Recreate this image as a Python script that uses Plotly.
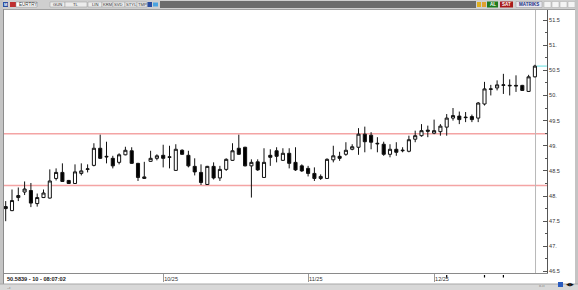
import plotly.graph_objects as go
import pandas as pd

# ---------------- data ----------------
dates = pd.bdate_range("2025-08-27", periods=85)
opens = [47.79, 47.71, 47.97, 48.08, 48.11, 47.85, 47.97, 47.96, 48.35, 48.47,
         48.31, 48.25, 48.45, 48.53, 48.61, 48.95, 48.79, 48.75, 48.67, 48.82,
         48.90, 48.65, 48.35, 48.69, 48.75, 48.81, 48.78, 48.51, 48.91, 48.81,
         48.59, 48.47, 48.23, 48.59, 48.36, 48.53, 48.71, 48.95, 48.97, 48.60,
         48.68, 48.37, 48.81, 48.90, 48.71, 48.85, 48.67, 48.60, 48.55, 48.45,
         48.35, 48.35, 48.72, 48.79, 48.83, 48.93, 48.97, 49.23, 49.21, 49.05,
         49.03, 48.83, 48.93, 48.90, 48.89, 49.13, 49.20, 49.31, 49.25, 49.28,
         49.37, 49.55, 49.59, 49.57, 49.58, 49.55, 49.83, 50.12, 50.15, 50.20,
         50.19, 50.20, 50.20, 50.08, 50.37]
highs = [47.90, 48.13, 48.17, 48.29, 48.26, 48.05, 48.13, 48.53, 48.55, 48.65,
         48.32, 48.63, 48.65, 48.63, 49.05, 49.22, 49.08, 48.80, 48.85, 48.98,
         48.97, 48.66, 48.68, 48.90, 48.83, 49.02, 49.00, 49.03, 48.93, 48.90,
         48.75, 48.63, 48.60, 48.67, 48.60, 48.75, 49.05, 49.22, 48.98, 48.73,
         48.73, 48.95, 48.93, 48.97, 48.95, 48.95, 48.97, 48.63, 48.60, 48.57,
         48.43, 48.75, 49.00, 48.88, 49.07, 49.03, 49.35, 49.38, 49.27, 49.17,
         49.08, 49.03, 49.07, 48.97, 49.20, 49.30, 49.43, 49.40, 49.52, 49.43,
         49.63, 49.75, 49.68, 49.67, 49.62, 49.87, 50.27, 50.21, 50.30, 50.43,
         50.32, 50.40, 50.21, 50.41, 50.61]
lows = [47.50, 47.70, 47.90, 48.02, 47.78, 47.79, 47.96, 47.95, 48.31, 48.28,
        48.24, 48.24, 48.41, 48.47, 48.59, 48.74, 48.65, 48.55, 48.63, 48.81,
        48.64, 48.30, 48.34, 48.68, 48.71, 48.57, 48.55, 48.50, 48.82, 48.57,
        48.41, 48.22, 48.22, 48.33, 48.30, 48.50, 48.70, 48.82, 48.59, 47.97,
        48.50, 48.36, 48.60, 48.67, 48.70, 48.55, 48.50, 48.48, 48.39, 48.30,
        48.32, 48.34, 48.67, 48.70, 48.80, 48.91, 48.82, 48.87, 48.93, 48.87,
        48.80, 48.77, 48.80, 48.87, 48.87, 49.07, 49.18, 49.17, 49.23, 49.20,
        49.20, 49.50, 49.43, 49.47, 49.47, 49.47, 49.80, 50.00, 50.10, 50.03,
        50.00, 50.07, 50.09, 50.07, 50.36]
closes = [47.75, 47.91, 48.01, 48.14, 47.86, 47.97, 48.06, 48.30, 48.47, 48.29,
          48.25, 48.48, 48.50, 48.54, 48.95, 48.75, 48.78, 48.60, 48.82, 48.91,
          48.65, 48.37, 48.38, 48.75, 48.80, 48.75, 48.77, 48.93, 48.83, 48.60,
          48.48, 48.27, 48.59, 48.36, 48.53, 48.73, 48.90, 48.83, 48.60, 48.67,
          48.52, 48.67, 48.77, 48.79, 48.85, 48.65, 48.52, 48.50, 48.45, 48.35,
          48.39, 48.73, 48.80, 48.75, 48.91, 48.98, 49.23, 49.08, 49.07, 49.04,
          48.83, 48.93, 48.87, 48.91, 49.12, 49.20, 49.30, 49.29, 49.30, 49.39,
          49.55, 49.60, 49.52, 49.56, 49.52, 49.85, 50.13, 50.13, 50.21, 50.21,
          50.20, 50.19, 50.10, 50.37, 50.5839]
resistance = 49.24
support = 48.21
last_price = 50.5839
status_text = "50.5839 - 10 - 08:07:02"
y_tickvals = [46.5, 47, 47.5, 48, 48.5, 49, 49.5, 50, 50.5, 51, 51.5]
y_ticktext = ["46.5", "47.", "47.5", "48.", "48.5", "49.", "49.5", "50.", "50.5", "51.", "51.5"]
x_month_labels = ["10/25", "11/25", "12/25"]
event_idx = [70, 76, 79]

x = list(range(len(dates)))
# first bar of each labelled month
month_idx = [next(i for i in x if f"{dates[i].month}/{str(dates[i].year)[2:]}" == m)
             for m in x_month_labels]

# ---------------- geometry helpers (pixel -> paper) ----------------
W, H = 578, 290
PL, PR, PT, PB = 4, 547, 10, 273
def px(v):
    return (v - PL) / (PR - PL)
def py(v):
    return (PB - v) / (PB - PT)

fig = go.Figure()
fig.add_trace(go.Candlestick(
    x=x, open=opens, high=highs, low=lows, close=closes,
    increasing=dict(line=dict(color="#111111", width=1), fillcolor="#ffffff"),
    decreasing=dict(line=dict(color="#111111", width=1), fillcolor="#000000"),
    whiskerwidth=0, hoverinfo="skip", showlegend=False,
))

shapes = []
annots = []
def rect(x0, y0, x1, y1, fill, line=None, lw=0):
    shapes.append(dict(type="rect", xref="paper", yref="paper",
                       x0=px(x0), x1=px(x1), y0=py(y1), y1=py(y0),
                       fillcolor=fill, line=dict(color=line or fill, width=lw), layer="above"))
def hline(x0, x1, y, color, w=1):
    shapes.append(dict(type="line", xref="paper", yref="paper", x0=px(x0), x1=px(x1),
                       y0=py(y), y1=py(y), line=dict(color=color, width=w), layer="above"))
def vline(x0, y0, y1, color, w=1):
    shapes.append(dict(type="line", xref="paper", yref="paper", x0=px(x0), x1=px(x0),
                       y0=py(y0), y1=py(y1), line=dict(color=color, width=w), layer="above"))
def text(x0, y0, s, size=5, color="#222", anchor="left", bold=False, font="Liberation Sans"):
    annots.append(dict(xref="paper", yref="paper", x=px(x0), y=py(y0), text=("<b>%s</b>" % s) if bold else s,
                       showarrow=False, xanchor=anchor, yanchor="middle",
                       font=dict(size=size, color=color, family=font)))

# support / resistance lines
for lvl in (resistance, support):
    shapes.append(dict(type="line", xref="paper", yref="y", x0=0, x1=1, y0=lvl, y1=lvl,
                       line=dict(color="#f4a4a4", width=1.4), layer="below"))
# cursor line at last bar
shapes.append(dict(type="line", xref="x", yref="paper", x0=x[-1] + 0.1, x1=x[-1] + 0.1, y0=0, y1=1,
                   line=dict(color="#b8b8b8", width=1), layer="below"))
# last price marker
shapes.append(dict(type="line", xref="x", yref="y", x0=x[-1] + 0.3, x1=x[-1] + 1.9,
                   y0=last_price, y1=last_price, line=dict(color="#66e0e0", width=1), layer="above"))

# frame: toolbar
rect(0, 0, 578, 9, "#cfcfcf")
rect(160, 1, 476, 8, "#6b6b6b")
rect(3, 2, 8, 7, "#2a4da0")
text(5.5, 4.6, "M", 4, "#fff", "center", True)
rect(10, 2, 16, 7, "#c03030")
rect(16, 2, 37, 7, "#ffffff", "#888", 0.5)
text(17, 4.6, "EURTRY", 4.5, "#333")
for (a, b, s) in [(50, 65, "GUN"), (65, 87, "TL"), (88, 102, "LIN"), (102, 113, "KRM"),
                  (113, 125, "SVD"), (125, 137, "STYL"), (137, 147, "TMP")]:
    rect(a, 2, b, 7, "#ececec", "#999", 0.5)
    text((a + b) / 2, 4.6, s, 4.2, "#333", "center")
rect(147.5, 2, 152, 7, "#2a4da0")
rect(153, 2.5, 158, 6.5, "#4aa3e0")
rect(477, 2, 481, 7, "#e0b020")
rect(482, 2, 486, 7, "#e0a030")
rect(487, 1.5, 498, 7.5, "#1e7a1e")
text(492.5, 4.6, "AL", 4.5, "#fff", "center", True)
rect(500, 1.5, 513, 7.5, "#a81a1a")
text(506.5, 4.6, "SAT", 4.5, "#fff", "center", True)
rect(516, 1.5, 542, 7.5, "#e8e8f0", "#999", 0.5)
text(529, 4.6, "MATRIKS", 4.5, "#1a2e80", "center", True)
for a in (544, 552, 560, 568):
    rect(a, 1.5, a + 7, 7.5, "#f4f4f4", "#aaa", 0.5)
hline(0, 578, 9.5, "#a0a0a0", 1)

# side frames
rect(0, 0, 3, 290, "#c4c4c4")
vline(3.5, 9, 284, "#8c8c8c", 1)
rect(575, 0, 578, 290, "#c4c4c4")

# bottom status area
rect(0, 284, 578, 290, "#d8d8d8")
hline(0, 578, 284, "#a8a8a8", 1)
text(5, 287, "..ı", 4, "#555")
text(4.5, 279, status_text, 5.6, "#222", "left", True)
for i in event_idx:
    shapes.append(dict(type="line", xref="x", yref="paper", x0=i, x1=i, y0=py(275), y1=py(277.5),
                       line=dict(color="#000", width=1.2), layer="above"))
text(537, 285.5, "ıı.ıı", 4, "#777")
rect(558, 282, 563, 287, "#2a5cc0")
text(570, 284.5, "◀▶", 4.5, "#111", "center")

fig.update_layout(
    width=W, height=H,
    margin=dict(l=PL, r=W - PR, t=PT, b=H - PB),
    paper_bgcolor="#ffffff", plot_bgcolor="#ffffff",
    shapes=shapes, annotations=annots,
    xaxis=dict(range=[-0.27, 85.92], rangeslider=dict(visible=False), showgrid=False,
               zeroline=False, showline=True, linecolor="#8a8a8a", linewidth=1,
               tickmode="array", tickvals=month_idx, ticktext=x_month_labels,
               ticks="outside", ticklen=8, tickcolor="#9a9a9a", tickwidth=1,
               ticklabelposition="outside right",
               tickfont=dict(size=5.5, color="#333", family="Liberation Sans"), fixedrange=True),
    yaxis=dict(range=[46.47, 51.699], side="right", showgrid=False, zeroline=False,
               showline=True, linecolor="#555", linewidth=1,
               tickmode="array", tickvals=y_tickvals, ticktext=y_ticktext,
               ticks="inside", ticklen=4, tickcolor="#555", tickwidth=1,
               minor=dict(ticks="inside", ticklen=2, dtick=0.25, tickcolor="#555", showgrid=False),
               tickfont=dict(size=5.5, color="#333", family="Liberation Sans"), fixedrange=True),
    hovermode=False,
)

fig.write_html("out.html")
